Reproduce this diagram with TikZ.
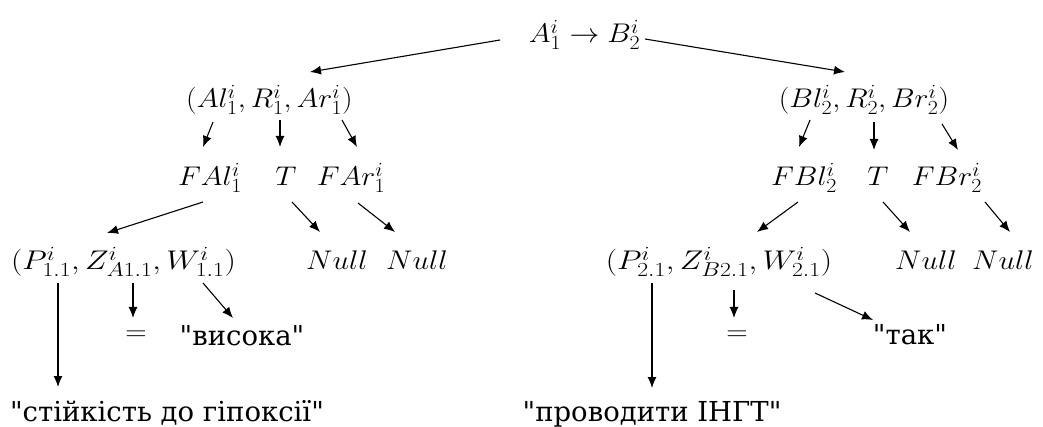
\RequirePackage{fix-cm}
\documentclass[tikz,border=0pt]{standalone}
\usepackage{fontspec}
\setmainfont{DejaVu Serif}
\usetikzlibrary{arrows.meta}
\DeclareMathSizes{27}{27}{20}{15}
\begin{document}
\begin{tikzpicture}[x=1pt,y=-1pt,
  mathnode/.style={anchor=base, inner sep=0pt, font=\fontsize{27}{32}\selectfont},
  txtnode/.style={anchor=base, inner sep=0pt, font=\fontsize{27.5}{32}\selectfont},
  arr/.style={-{Latex[length=11pt,width=9pt]}, line width=1.1pt}]
\useasboundingbox (0,0) rectangle (1043,427);
\newcommand{\wmth}[1]{\scalebox{1.1}[1]{$#1$}}
\newcommand{\wtup}[1]{\scalebox{1.18}[1]{$#1$}}
\newcommand{\qq}[1]{\textquotedbl#1\textquotedbl}
\node[mathnode] (top) at (584.5,43) {\wmth{A_1^i\rightarrow B_2^i}};
\node[mathnode] (L1) at (269.5,108) {\wmth{(Al_1^i,R_1^i,Ar_1^i)}};
\node[mathnode] (R1) at (864,108) {\wmth{(Bl_2^i,R_2^i,Br_2^i)}};
\node[mathnode] (FAl) at (210,186) {\wmth{FAl_1^i}};
\node[mathnode] (TL) at (286,186) {\wmth{T}};
\node[mathnode] (FAr) at (351,186) {\wmth{FAr_1^i}};
\node[mathnode] (FBl) at (804,186) {\wmth{FBl_2^i}};
\node[mathnode] (TR) at (878,186) {\wmth{T}};
\node[mathnode] (FBr) at (947,186) {\wmth{FBr_2^i}};
\node[mathnode] (P1) at (123.5,270) {\wtup{(P_{1.1}^i,Z_{A1.1}^i,W_{1.1}^i)}};
\node[mathnode] (NL1) at (337,270) {\wmth{Null}};
\node[mathnode] (NL2) at (417,270) {\wmth{Null}};
\node[mathnode] (P2) at (719,270) {\wtup{(P_{2.1}^i,Z_{B2.1}^i,W_{2.1}^i)}};
\node[mathnode] (NR1) at (926,270) {\wmth{Null}};
\node[mathnode] (NR2) at (1003,270) {\wmth{Null}};
\node[mathnode] (EqL) at (136,340) {\wmth{=}};
\node[mathnode] (EqR) at (737,340) {\wmth{=}};
\node[txtnode] (VL) at (242,345) {\qq{висока}};
\node[txtnode] (VR) at (910,344) {\qq{так}};
\node[txtnode] (SL) at (167,421) {\qq{стійкість до гіпоксії}};
\node[txtnode] (SR) at (652,421) {\qq{проводити ІНГТ}};
\draw[arr] ([shift={(-84.5,-3)}]top.base) -- ([shift={(40.5,-36)}]L1.base);
\draw[arr] ([shift={(60.5,-4)}]top.base) -- ([shift={(-19,-36)}]R1.base);
\draw[arr] ([shift={(-56.5,14)}]L1.base) -- ([shift={(-7,-39)}]FAl.base);
\draw[arr] ([shift={(10.5,12)}]L1.base) -- ([shift={(-6,-39)}]TL.base);
\draw[arr] ([shift={(72.5,12)}]L1.base) -- ([shift={(6,-39)}]FAr.base);
\draw[arr] ([shift={(-54,12)}]R1.base) -- ([shift={(-5,-39)}]FBl.base);
\draw[arr] ([shift={(10,14)}]R1.base) -- ([shift={(-4,-36)}]TR.base);
\draw[arr] ([shift={(78,16)}]R1.base) -- ([shift={(11,-36)}]FBr.base);
\draw[arr] ([shift={(-7,16)}]FAl.base) -- ([shift={(-16.5,-37)}]P1.base);
\draw[arr] ([shift={(6,16)}]TL.base) -- ([shift={(-17,-38)}]NL1.base);
\draw[arr] ([shift={(7,17)}]FAr.base) -- ([shift={(-22,-38)}]NL2.base);
\draw[arr] ([shift={(-6,16)}]FBl.base) -- ([shift={(38,-38)}]P2.base);
\draw[arr] ([shift={(5,16)}]TR.base) -- ([shift={(-16,-38)}]NR1.base);
\draw[arr] ([shift={(38,16)}]FBr.base) -- ([shift={(7,-38)}]NR2.base);
\draw[arr] ([shift={(-65.5,13)}]P1.base) -- ([shift={(-109,-34)}]SL.base);
\draw[arr] ([shift={(9.5,13)}]P1.base) -- ([shift={(-3,-22)}]EqL.base);
\draw[arr] ([shift={(79.5,13)}]P1.base) -- ([shift={(-9,-27)}]VL.base);
\draw[arr] ([shift={(-67,13)}]P2.base) -- ([shift={(0,-33)}]SR.base);
\draw[arr] ([shift={(15,20)}]P2.base) -- ([shift={(-3,-22)}]EqR.base);
\draw[arr] ([shift={(96,23)}]P2.base) -- ([shift={(-37,-24)}]VR.base);
\end{tikzpicture}
\end{document}
